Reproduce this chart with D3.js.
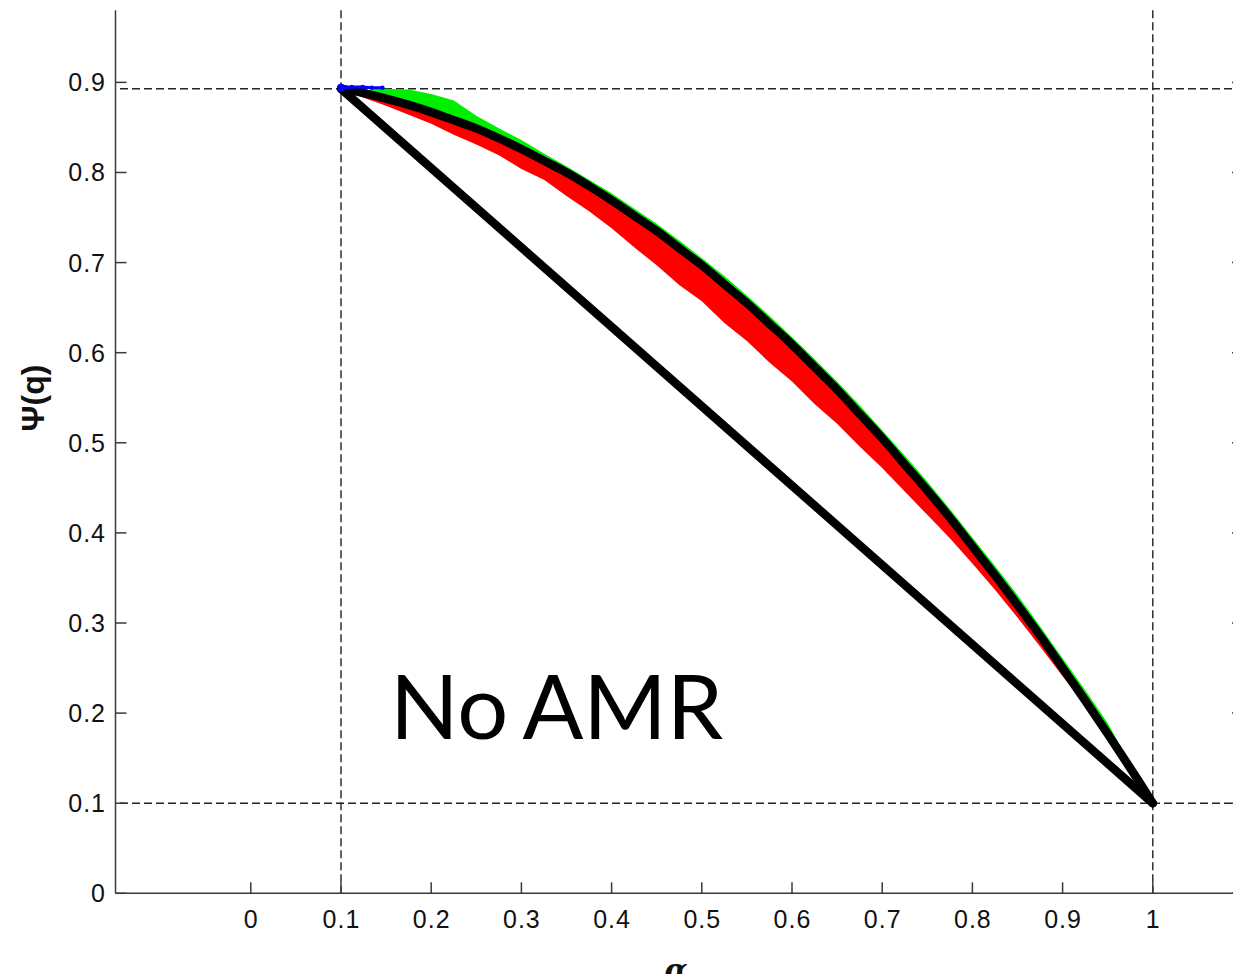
<!DOCTYPE html>
<html>
<head>
<meta charset="utf-8">
<script src="https://cdn.jsdelivr.net/npm/d3@7"></script>
<style>
  html, body { margin: 0; padding: 0; background: #fff; }
  svg { display: block; }
  .tick-label { font-family: "Liberation Sans", Arial, sans-serif; font-size: 25px; fill: #111; letter-spacing: 1px; }
</style>
</head>
<body>
<svg id="chart" width="1233" height="974"></svg>
<script>
// Sampling positions along alpha
const alphaGrid = [0.100, 0.125, 0.150, 0.175, 0.200, 0.225, 0.250, 0.275, 0.300, 0.325, 0.350, 0.375,
                   0.400, 0.425, 0.450, 0.475, 0.500, 0.525, 0.550, 0.575, 0.600, 0.625, 0.650, 0.675,
                   0.700, 0.725, 0.750, 0.775, 0.800, 0.825, 0.850, 0.875, 0.900, 0.925, 0.950, 0.975, 1.000];
// Upper envelope (thick black curve)
const psiUpper = [0.893, 0.888, 0.882, 0.875, 0.867, 0.858, 0.849, 0.838, 0.826, 0.813, 0.800, 0.785,
                  0.769, 0.752, 0.735, 0.716, 0.697, 0.676, 0.655, 0.632, 0.609, 0.584, 0.559, 0.532,
                  0.505, 0.476, 0.447, 0.417, 0.385, 0.353, 0.320, 0.286, 0.250, 0.214, 0.177, 0.139, 0.100];
// Lower edge of the red spread
const psiRedLow = [0.893, 0.883, 0.874, 0.864, 0.854, 0.842, 0.831, 0.819, 0.804, 0.792, 0.774, 0.757,
                   0.738, 0.717, 0.697, 0.675, 0.657, 0.633, 0.613, 0.589, 0.568, 0.543, 0.521, 0.496,
                   0.472, 0.446, 0.420, 0.394, 0.366, 0.337, 0.306, 0.274, 0.241, 0.209, 0.177, null, null];
// Upper edge of the green spread
const psiGreenHigh = [null, 0.891, 0.893, 0.892, 0.887, 0.880, 0.863, 0.849, 0.836, 0.821, 0.807, 0.792,
                      0.777, 0.760, 0.743, 0.7245, 0.705, 0.685, 0.6635, 0.641, 0.6175, 0.593, 0.568, 0.5416,
                      0.514, 0.486, 0.457, 0.4266, 0.395, 0.3635, 0.331, 0.2965, 0.261, 0.2256, 0.189, 0.143, null];
// Straight chord between the two end points
const chordAlpha = [0.1, 1.0];
const chordPsi   = [0.893, 0.100];
// Blue samples at the start
const blueAlpha = [0.100, 0.112, 0.124, 0.134, 0.146];
const bluePsi   = [0.894, 0.895, 0.895, 0.894, 0.894];
// Reference guides
const guideAlpha = [0.1, 1.0];
const guidePsi   = [0.893, 0.1];
// Tick values and labels
const xTicks = [0, 0.1, 0.2, 0.3, 0.4, 0.5, 0.6, 0.7, 0.8, 0.9, 1];
const xTickLabels = ["0", "0.1", "0.2", "0.3", "0.4", "0.5", "0.6", "0.7", "0.8", "0.9", "1"];
const yTicks = [0, 0.1, 0.2, 0.3, 0.4, 0.5, 0.6, 0.7, 0.8, 0.9];
const yTickLabels = ["0", "0.1", "0.2", "0.3", "0.4", "0.5", "0.6", "0.7", "0.8", "0.9"];

const svg = d3.select("#chart");
const x = d3.scaleLinear().domain([-0.15, 1.1]).range([115.5, 1243]);
const y = d3.scaleLinear().domain([0, 0.98]).range([893.3, 10.3]);
const axisColor = "#3a3a3a";

const rows = alphaGrid.map((a, i) => ({ a, up: psiUpper[i], red: psiRedLow[i], green: psiGreenHigh[i] }));

// Dashed guide lines
const gGuide = svg.append("g").attr("stroke", "#222").attr("stroke-width", 1.4).attr("stroke-dasharray", "8,4");
guideAlpha.forEach(a => {
  gGuide.append("line").attr("x1", x(a)).attr("x2", x(a)).attr("y1", y.range()[1]).attr("y2", y(0));
});
guidePsi.forEach(p => {
  gGuide.append("line").attr("x1", x(-0.145)).attr("x2", 1233).attr("y1", y(p)).attr("y2", y(p));
});

// Red spread below the envelope
svg.append("path")
  .datum(rows.filter(d => d.red !== null))
  .attr("fill", "#ff0000")
  .attr("d", d3.area().curve(d3.curveLinear)
    .x(d => x(d.a)).y0(d => y(d.red)).y1(d => y(d.up)));

// Green spread above the envelope
svg.append("path")
  .datum(rows.filter(d => d.green !== null))
  .attr("fill", "#00ee00")
  .attr("d", d3.area().curve(d3.curveLinear)
    .x(d => x(d.a)).y0(d => y(d.up)).y1(d => y(d.green)));

// Black envelope and chord
svg.append("path")
  .datum(rows)
  .attr("fill", "none").attr("stroke", "#000").attr("stroke-width", 8.5)
  .attr("stroke-linecap", "round").attr("stroke-linejoin", "round")
  .attr("d", d3.line().curve(d3.curveCatmullRom).x(d => x(d.a)).y(d => y(d.up)));

svg.append("path")
  .datum(chordAlpha.map((a, i) => [a, chordPsi[i]]))
  .attr("fill", "none").attr("stroke", "#000").attr("stroke-width", 8.5)
  .attr("stroke-linecap", "round")
  .attr("d", d3.line().x(d => x(d[0])).y(d => y(d[1])));

// Blue samples
const blueData = blueAlpha.map((a, i) => [a, bluePsi[i]]);
svg.append("path").datum(blueData)
  .attr("fill", "none").attr("stroke", "#0000ff").attr("stroke-width", 3)
  .attr("d", d3.line().x(d => x(d[0])).y(d => y(d[1])));
svg.selectAll("circle.blue").data(blueData).join("circle")
  .attr("class", "blue")
  .attr("cx", d => x(d[0])).attr("cy", d => y(d[1]))
  .attr("r", (d, i) => i === 0 ? 4 : 2.2).attr("fill", "#0000ff");

// Axes (box style, ticks inward)
const gAxis = svg.append("g").attr("stroke", axisColor).attr("stroke-width", 1.5);
gAxis.append("line").attr("x1", x(-0.15)).attr("x2", x(-0.15)).attr("y1", y.range()[1]).attr("y2", y(0));
gAxis.append("line").attr("x1", x(-0.15)).attr("x2", 1233).attr("y1", y(0)).attr("y2", y(0));
xTicks.forEach(t => {
  gAxis.append("line").attr("x1", x(t)).attr("x2", x(t)).attr("y1", y(0)).attr("y2", y(0) - 11);
});
yTicks.forEach(t => {
  gAxis.append("line").attr("x1", x(-0.15)).attr("x2", x(-0.15) + 11).attr("y1", y(t)).attr("y2", y(t));
  gAxis.append("line").attr("x1", x(1.1)).attr("x2", x(1.1) - 11).attr("y1", y(t)).attr("y2", y(t));
});

// Tick labels
svg.append("g").selectAll("text").data(xTicks).join("text")
  .attr("class", "tick-label")
  .attr("x", d => x(d) + 0.5).attr("y", 928)
  .attr("text-anchor", "middle")
  .text((d, i) => xTickLabels[i]);
svg.append("g").selectAll("text").data(yTicks).join("text")
  .attr("class", "tick-label")
  .attr("x", 106).attr("y", d => y(d) + 9)
  .attr("text-anchor", "end")
  .text((d, i) => yTickLabels[i]);

// Axis titles
svg.append("text")
  .attr("transform", "translate(44,398) rotate(-90)")
  .attr("text-anchor", "middle")
  .style("font-family", "'Liberation Sans', Arial, sans-serif")
  .style("font-size", "32px").style("font-weight", "bold").attr("fill", "#111")
  .text("Ψ(q)");
svg.append("text")
  .attr("x", 676).attr("y", 980)
  .attr("text-anchor", "middle")
  .style("font-family", "'DejaVu Serif', serif")
  .style("font-size", "30px").style("font-style", "italic").style("font-weight", "bold").attr("fill", "#111")
  .text("α");

// Annotation
svg.append("text")
  .attr("x", 390).attr("y", 739)
  .style("font-family", "Lato, sans-serif")
  .style("font-size", "90px").style("word-spacing", "-6px").attr("fill", "#000")
  .text("No AMR");
</script>
</body>
</html>
